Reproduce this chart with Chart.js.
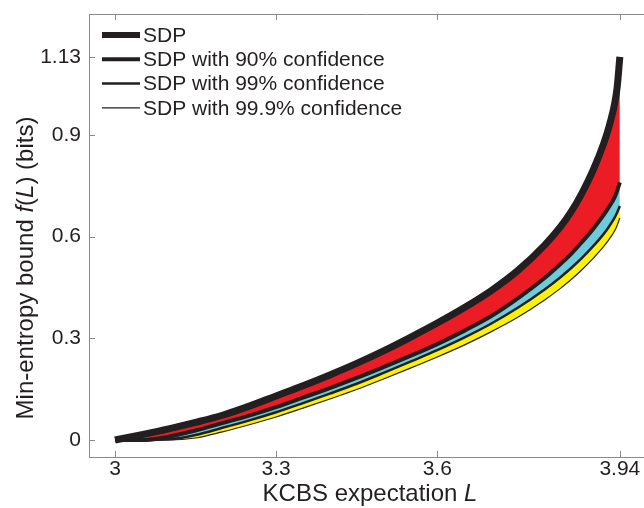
<!DOCTYPE html>
<html>
<head>
<meta charset="utf-8">
<script src="https://cdn.jsdelivr.net/npm/chart.js@4.4.0/dist/chart.umd.min.js"></script>
<style>
  html, body { margin: 0; padding: 0; background: #fff; overflow: hidden; }
  #wrap { width: 644px; height: 508px; }
</style>
</head>
<body>
<div id="wrap"><canvas id="kcbsChart" width="644" height="508"></canvas></div>
<script>
// values
var kcbsL   = [3.0, 3.05, 3.1, 3.15, 3.2, 3.25, 3.3, 3.35, 3.4, 3.45, 3.5, 3.55, 3.6, 3.65, 3.7, 3.75, 3.8, 3.83, 3.85, 3.87, 3.89, 3.91, 3.92, 3.93, 3.935, 3.94];
var sdp     = [0, 0.016, 0.033, 0.052, 0.073, 0.1, 0.13, 0.16, 0.192, 0.226, 0.263, 0.303, 0.345, 0.39, 0.44, 0.5, 0.575, 0.63, 0.675, 0.73, 0.795, 0.875, 0.925, 0.99, 1.04, 1.13];
var conf90  = [0, 0, 0.01, 0.028, 0.05, 0.072, 0.097, 0.125, 0.153, 0.183, 0.215, 0.248, 0.283, 0.322, 0.365, 0.418, 0.478, 0.52, 0.55, 0.585, 0.622, 0.664, 0.688, 0.715, 0.735, 0.76];
var conf99  = [0, 0, 0.002, 0.015, 0.036, 0.058, 0.082, 0.109, 0.137, 0.166, 0.198, 0.231, 0.265, 0.302, 0.343, 0.39, 0.444, 0.481, 0.508, 0.538, 0.571, 0.608, 0.63, 0.655, 0.671, 0.69];
var conf999 = [0, 0, 0, 0.006, 0.024, 0.045, 0.068, 0.094, 0.121, 0.149, 0.18, 0.212, 0.245, 0.28, 0.319, 0.362, 0.413, 0.448, 0.474, 0.503, 0.535, 0.571, 0.592, 0.616, 0.633, 0.655];

var xTicks = [3, 3.3, 3.6, 3.94];
var yTicks = [0, 0.3, 0.6, 0.9, 1.13];

var seriesNames = ["SDP", "SDP with 90% confidence", "SDP with 99% confidence", "SDP with 99.9% confidence"];

var FONT = "'Liberation Sans', Arial, Helvetica, sans-serif";
var INK = "#231f20";
var FRAME = "#8a8a8a";

function pts(ys) {
  return kcbsL.map(function (x, i) { return { x: x, y: ys[i] }; });
}

function makeSet(label, ys, width, fillColor, fill) {
  return {
    label: label,
    data: pts(ys),
    borderColor: INK,
    borderWidth: width,
    backgroundColor: fillColor,
    fill: fill,
    pointRadius: 0,
    cubicInterpolationMode: "monotone",
    borderCapStyle: "butt",
    borderJoinStyle: "round"
  };
}

// inward tick marks, top frame line, legend and axis titles
var decorations = {
  id: "decorations",
  afterDraw: function (chart) {
    var ctx = chart.ctx;
    var a = chart.chartArea;
    var xs = chart.scales.x, ys = chart.scales.y;
    ctx.save();
    ctx.strokeStyle = FRAME;
    ctx.lineWidth = 1;
    ctx.beginPath();
    ctx.moveTo(a.left, a.top + 0.5);
    ctx.lineTo(a.right, a.top + 0.5);
    xTicks.forEach(function (v) {
      var px = Math.round(xs.getPixelForValue(v)) + 0.5;
      ctx.moveTo(px, a.bottom);
      ctx.lineTo(px, a.bottom - 6);
      ctx.moveTo(px, a.top);
      ctx.lineTo(px, a.top + 6);
    });
    yTicks.forEach(function (v) {
      var py = Math.round(ys.getPixelForValue(v)) + 0.5;
      ctx.moveTo(a.left, py);
      ctx.lineTo(a.left + 6, py);
    });
    ctx.stroke();

    // legend
    var widths = [6, 4, 2.5, 1.3];
    var lx = a.left + 13, ly = a.top + 21;
    ctx.font = "21px " + FONT;
    ctx.fillStyle = INK;
    ctx.textBaseline = "middle";
    ctx.textAlign = "left";
    seriesNames.forEach(function (name, i) {
      var y = ly + i * 24.3;
      ctx.strokeStyle = INK;
      ctx.lineWidth = widths[i];
      ctx.beginPath();
      ctx.moveTo(lx, y);
      ctx.lineTo(lx + 38, y);
      ctx.stroke();
      ctx.fillText(name, lx + 41, y + 1);
    });

    // x title with italic L
    ctx.font = "24px " + FONT;
    var p1 = "KCBS expectation ";
    var w1 = ctx.measureText(p1).width;
    ctx.font = "italic 24px " + FONT;
    var w2 = ctx.measureText("L").width;
    var sx = 370 - (w1 + w2) / 2;
    ctx.font = "24px " + FONT;
    ctx.fillText(p1, sx, 494);
    ctx.font = "italic 24px " + FONT;
    ctx.fillText("L", sx + w1, 494);

    // y title with italic f and L
    var parts = [["Min-entropy bound ", ""], ["f", "italic "], ["(", ""], ["L", "italic "], [") (bits)", ""]];
    var total = 0;
    parts.forEach(function (p) {
      ctx.font = p[1] + "24px " + FONT;
      p.push(ctx.measureText(p[0]).width);
      total += p[2];
    });
    ctx.translate(26, 268);
    ctx.rotate(-Math.PI / 2);
    var cx = -total / 2;
    parts.forEach(function (p) {
      ctx.font = p[1] + "24px " + FONT;
      ctx.fillText(p[0], cx, 0);
      cx += p[2];
    });
    ctx.restore();
  }
};

new Chart(document.getElementById("kcbsChart"), {
  type: "line",
  data: {
    datasets: [
      makeSet(seriesNames[0], sdp, 7, "#ec1c24", "+1"),
      makeSet(seriesNames[1], conf90, 4, "#6ccbdc", "+1"),
      makeSet(seriesNames[2], conf99, 2.5, "#fff200", "+1"),
      makeSet(seriesNames[3], conf999, 1.2, "rgba(0,0,0,0)", false)
    ]
  },
  options: {
    responsive: false,
    animation: false,
    events: [],
    layout: { autoPadding: false, padding: { left: 0, right: 0, top: 14, bottom: 0 } },
    plugins: {
      legend: { display: false },
      tooltip: { enabled: false },
      filler: { drawTime: "beforeDatasetsDraw" }
    },
    scales: {
      x: {
        type: "linear",
        min: 2.9516,
        max: 3.985,
        afterFit: function (s) { s.height = 51; },
        afterBuildTicks: function (s) { s.ticks = xTicks.map(function (v) { return { value: v }; }); },
        grid: { display: false },
        border: { display: true, color: FRAME, width: 1 },
        ticks: {
          padding: -8,
          color: INK,
          font: { family: FONT, size: 21 },
          maxRotation: 0,
          autoSkip: false,
          callback: function (v) { return String(v); }
        }
      },
      y: {
        type: "linear",
        min: -0.0501,
        max: 1.2566,
        afterFit: function (s) { s.width = 89; },
        afterBuildTicks: function (s) { s.ticks = yTicks.map(function (v) { return { value: v }; }); },
        grid: { display: false },
        border: { display: true, color: FRAME, width: 1 },
        ticks: {
          padding: 0,
          color: INK,
          font: { family: FONT, size: 21 },
          autoSkip: false,
          callback: function (v) { return String(v); }
        }
      }
    }
  },
  plugins: [decorations]
});
</script>
</body>
</html>
